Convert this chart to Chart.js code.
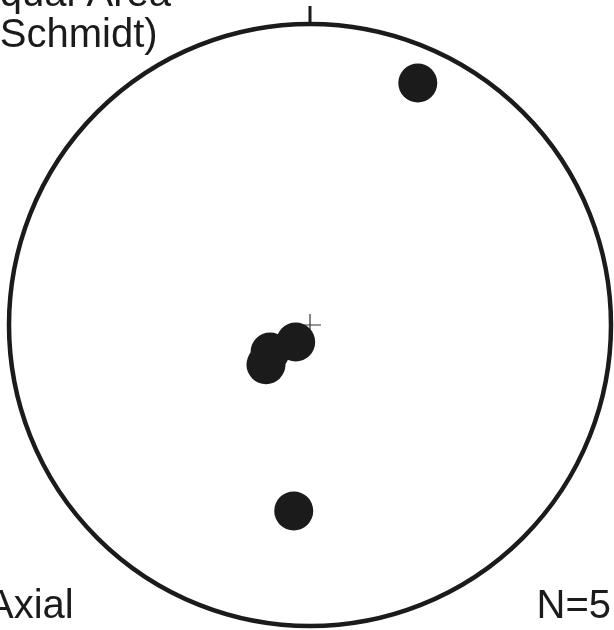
<!DOCTYPE html>
<html lang="en">
  <head>
    <meta charset="UTF-8" />
    <title>Equal Area (Schmidt) - Axial</title>
    <script src="https://cdn.jsdelivr.net/npm/chart.js@4.4.1/dist/chart.umd.min.js"></script>
    <style>
      body {
        margin: 0;
        background: #fff;
      }
      #wrap {
        width: 614px;
        height: 630px;
        overflow: hidden;
      }
    </style>
  </head>
  <body>
    <div id="wrap">
      <canvas id="stereonet" width="614" height="630"></canvas>
    </div>

    <script>
      // ---- data: axial orientations (trend / plunge, degrees) ----
      const trends = [24, 220, 236, 228, 185];
      const plunges = [13, 84, 77, 74, 38];

      const TITLE_LINES = ["Equal Area", "(Schmidt)"];
      const LABEL_LEFT = "Axial";
      const LABEL_RIGHT = "N=" + trends.length;

      const INK = "#1b1b1b";
      const FONT = "40px 'Liberation Sans', Arial, sans-serif";

      // lower hemisphere equal-area (Schmidt) projection, unit radius
      const project = (trend, plunge) => {
        const t = (trend * Math.PI) / 180;
        const r = Math.SQRT2 * Math.sin(((90 - plunge) * Math.PI) / 360);
        return { x: r * Math.sin(t), y: r * Math.cos(t) };
      };

      const points = trends.map((t, i) => project(t, plunges[i]));

      // primitive circle, north tick, centre cross and labels
      const netPlugin = {
        id: "net",
        beforeDatasetsDraw(chart) {
          const { ctx, scales } = chart;
          const cx = scales.x.getPixelForValue(0);
          const cy = scales.y.getPixelForValue(0);
          const R = scales.x.getPixelForValue(1) - cx;

          ctx.save();
          ctx.strokeStyle = INK;
          ctx.lineWidth = 4.5;
          ctx.beginPath();
          ctx.arc(cx, cy, R, 0, Math.PI * 2);
          ctx.stroke();

          // north tick
          ctx.lineWidth = 3;
          ctx.beginPath();
          ctx.moveTo(cx, cy - R);
          ctx.lineTo(cx, cy - R - 18);
          ctx.stroke();

          // centre cross
          ctx.lineWidth = 1.2;
          ctx.strokeStyle = "#333";
          ctx.beginPath();
          ctx.moveTo(cx - 11, cy);
          ctx.lineTo(cx + 11, cy);
          ctx.moveTo(cx, cy - 11);
          ctx.lineTo(cx, cy + 11);
          ctx.stroke();
          ctx.restore();
        },
        afterDraw(chart) {
          const { ctx } = chart;
          ctx.save();
          ctx.fillStyle = INK;
          ctx.font = FONT;
          ctx.textBaseline = "alphabetic";

          ctx.textAlign = "center";
          ctx.fillText(TITLE_LINES[0], 72, 6);
          ctx.fillText(TITLE_LINES[1], 72, 47);

          ctx.textAlign = "left";
          ctx.fillText(LABEL_LEFT, -13, 618);

          ctx.textAlign = "right";
          ctx.fillText(LABEL_RIGHT, 611, 618);
          ctx.restore();
        },
      };

      new Chart(document.getElementById("stereonet"), {
        type: "scatter",
        data: {
          datasets: [
            {
              data: points,
              backgroundColor: INK,
              borderWidth: 0,
              pointRadius: 19.5,
              pointHoverRadius: 19.5,
              clip: false,
            },
          ],
        },
        plugins: [netPlugin],
        options: {
          responsive: false,
          animation: false,
          events: [],
          layout: {
            autoPadding: false,
            padding: { left: 9, right: 3, top: 24, bottom: 4 },
          },
          scales: {
            x: { type: "linear", min: -1, max: 1, display: false },
            y: { type: "linear", min: -1, max: 1, display: false },
          },
          plugins: {
            legend: { display: false },
            tooltip: { enabled: false },
          },
        },
      });
    </script>
  </body>
</html>
